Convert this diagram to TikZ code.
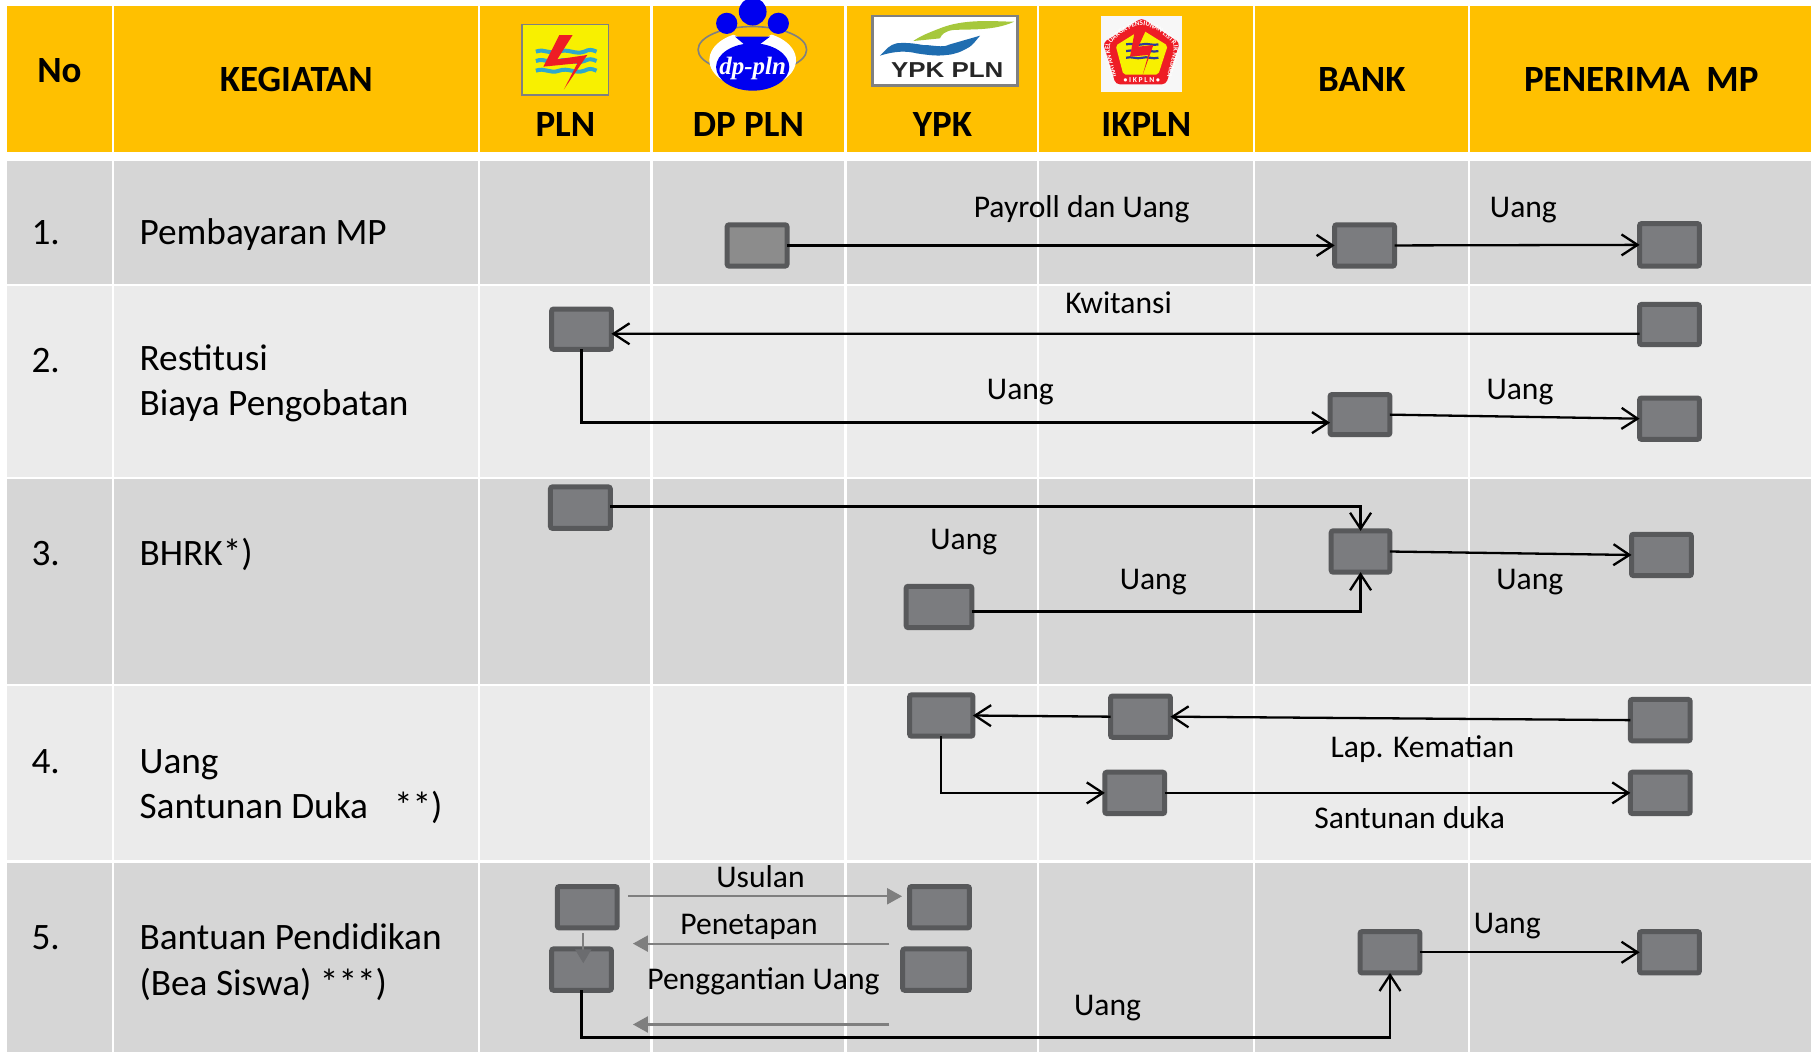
\documentclass[tikz,border=0pt]{standalone}
\usepackage{fontspec}
\setmainfont{Carlito}
\newfontfamily\logoserif{Liberation Serif}
\newfontfamily\logosans{Liberation Sans}
\usetikzlibrary{arrows.meta,decorations.text,calc}
\definecolor{hdr}{HTML}{FFC000}
\definecolor{rowa}{HTML}{D6D6D6}
\definecolor{rowb}{HTML}{EBEBEB}
\definecolor{boxfill}{HTML}{7B7C7F}
\definecolor{boxline}{HTML}{58595B}
\definecolor{arrgrey}{HTML}{7F7F7F}
\definecolor{wave}{HTML}{2FA8CC}
\definecolor{dpblue}{HTML}{0000F0}
\definecolor{navy}{HTML}{2B3A9A}
\definecolor{plnyellow}{HTML}{F8F000}
\definecolor{logored}{HTML}{EE1C25}
\definecolor{leaf}{HTML}{A6C83C}
\definecolor{hand}{HTML}{1F6DB0}
\newcommand{\gb}[6][boxfill]{\node[gbox,fill=#1,minimum width={(#4-#2-3.2)*0.5775pt},minimum height={(#5-#3-3.2)*0.5775pt}] (#6) at ({(#2+#4)/2},{(#3+#5)/2}) {};}
\tikzset{
 gbox/.style={draw=boxline,line width=2.5pt,rounded corners=1pt,inner sep=0pt,outer sep=0pt},
 flow/.style={black,line width=1.15pt,-{Straight Barb[length=8pt,width=10.5pt,line width=1.15pt]}},
 greyflow/.style={arrgrey,line width=1.1pt,-{Triangle[length=7.5pt,width=8pt]}},
 plainlabel/.style={font=\fontsize{15.8}{19}\selectfont,anchor=base,inner sep=0pt},
 rowtext/.style={font=\fontsize{18.65}{22}\selectfont,anchor=base west,inner sep=0pt},
 headtext/.style={font=\fontsize{18.5}{22}\selectfont\bfseries,anchor=base,inner sep=0pt},
}
\begin{document}
\begin{tikzpicture}[x=0.5775pt,y=-0.5775pt]
\useasboundingbox (0,0) rectangle (1568,911);
\fill[white] (0,0) rectangle (1568,911);
% table cells
\foreach \a/\b in {6/97,99/414,416/563,565/731,733/898,900/1085,1087/1271,1273/1568}{
  \fill[hdr] (\a,5.5) rectangle (\b,132);
  \fill[rowa] (\a,139) rectangle (\b,246);
  \fill[rowb] (\a,248) rectangle (\b,413);
  \fill[rowa] (\a,415) rectangle (\b,592);
  \fill[rowb] (\a,594) rectangle (\b,745);
  \fill[rowa] (\a,747) rectangle (\b,911);
}
% PLN logo
\fill[gray] (451.5,20.8) rectangle (527.6,82.8);
\fill[plnyellow] (453,22) rectangle (526,81.5);
\foreach \yy in {44.7,52.8,61.2}{
  \draw[wave,line width=2pt] (464,\yy) .. controls (472,\yy-3) and (476,\yy+3) .. (484,\yy) .. controls (492,\yy-3) and (498,\yy+3) .. (506,\yy) .. controls (510,\yy-2) and (512,\yy-2) .. (516.5,\yy);
}
\fill[logored] (484.3,30.3) -- (495.8,30.3) -- (482.5,51.4) -- (508.5,47.6) -- (488.3,77.3) -- (499.9,54.8) -- (470.4,57.7) -- cycle;
% DP PLN logo
\begin{scope}
\clip (580,0) rectangle (720,100);
\draw[gray,line width=0.8pt] (651.4,43) ellipse (47 and 20);
\fill[white] (651.7,52) ellipse (37.5 and 24.5);
\fill[hdr] (634,26) -- (669,26) -- (669,29) -- (652,40) -- (634,29) -- cycle;
\fill[dpblue] (651.7,10.1) circle (12);
\fill[dpblue] (629.2,20.2) circle (9.2);
\fill[dpblue] (673.9,20.2) circle (9.2);
\fill[dpblue] (636.4,31.7) -- (666.7,31.7) -- (657,39) -- (645,39) -- cycle;
\fill[dpblue] (651.7,58) ellipse (31.7 and 20.5);
\node[inner sep=0pt,text=white] (dplogo) at (651.7,59) {\fontsize{12.5}{14}\logoserif\bfseries\itshape dp-pln};
\end{scope}
% YPK logo
\draw[gray,fill=white,line width=1.3pt] (755.5,13.7) rectangle (881,73.8);
\fill[leaf] (878,18.8) .. controls (860,18.5) and (835,16) .. (813.9,24.5) .. controls (805,28) and (797,31) .. (790.8,35.5) -- (813.9,33.2) .. controls (815,30) and (818,27) .. (825,26) .. controls (840,25) and (860,27) .. (878,18.8) -- cycle;
\fill[hand] (761.9,48.2) .. controls (768,42) and (770,39) .. (776.3,37.5) .. controls (790,36) and (800,40) .. (802.3,39) .. controls (812,40) and (818,41) .. (822.5,38.4) -- (848.5,30.9) .. controls (845,35) and (843,38) .. (839.8,40.4) .. controls (832,45) and (827,47) .. (819.6,47.6) .. controls (810,49) and (800,47) .. (793.7,46.2) .. controls (785,44) and (775,44) .. cycle;
\node[inner sep=0pt,text=black!85,xscale=1.2] (ypklogo) at (820.2,60.6) {\fontsize{10.8}{12}\logosans\bfseries YPK PLN};
% IKPLN logo
\fill[black!3] (953.3,13.9) rectangle (1023.1,79.4);
\fill[logored,rounded corners=2pt] (988.5,15.5) -- (1021.5,37) -- (1009.5,73) -- (966,73) -- (955,37) -- cycle;
\fill[plnyellow,rounded corners=1pt] (988.5,25.5) -- (1011,39.5) -- (1002.9,64.5) -- (972.6,64.5) -- (966,39.5) -- cycle;
\foreach \yy in {38.4,44.2,50}{
  \draw[navy,line width=1.1pt] (975,\yy) .. controls (980,\yy-1.5) and (984,\yy+1.5) .. (989,\yy) .. controls (993,\yy-1.5) and (998,\yy+1.5) .. (1003,\yy);
}
\fill[logored] (982.7,26) -- (992.2,26) -- (985.6,40.4) -- (998.6,39) -- (989.3,65) -- (994.2,47.6) -- (978.4,49) -- cycle;
\path[postaction={decorate,decoration={text along path,text align=center,text={|\fontsize{3.5}{4}\selectfont\bfseries\color{white}|IKATAN KELUARGA PENSIUNAN LISTRIK NEGARA}}}] (966.5,66) .. controls (962,50) and (960,43) .. (961.5,38) .. controls (970,29) and (979,23) .. (988.5,22) .. controls (998,23) and (1007,29) .. (1015.5,38) .. controls (1017,43) and (1015,50) .. (1010.5,66);
\node[inner sep=0pt,text=white] (iklogo) at (988.5,68.9) {\fontsize{3.8}{4}\selectfont\bfseries• I K P L N •};
% header text
\node[headtext] (hno) at (51.5,71) {No};
\node[headtext] (hkeg) at (256.5,79.5) {KEGIATAN};
\node[headtext] (hpln) at (489.5,118.5) {PLN};
\node[headtext] (hdp) at (648,118.5) {DP PLN};
\node[headtext] (hypk) at (816,118.5) {YPK};
\node[headtext] (hik) at (992.5,118.5) {IKPLN};
\node[headtext] (hbank) at (1179,79.5) {BANK};
\node[headtext] (hpen) at (1421,79.5) {PENERIMA\ \ MP};
% row text
\node[rowtext] (n1) at (27,211.5) {1.};
\node[rowtext] (t1) at (120.5,211.5) {Pembayaran MP};
\node[rowtext] (n2) at (27,322.5) {2.};
\node[rowtext] (t2a) at (120.5,320.5) {Restitusi};
\node[rowtext] (t2b) at (120.5,359.5) {Biaya Pengobatan};
\node[rowtext] (n3) at (27,489.5) {3.};
\node[rowtext] (t3) at (120.5,489.5) {BHRK*)};
\node[rowtext] (n4) at (27,669.5) {4.};
\node[rowtext] (t4a) at (120.5,669.5) {Uang};
\node[rowtext] (t4b) at (120.5,708.5) {Santunan Duka\hspace{13pt}**)};
\node[rowtext] (n5) at (27,822.5) {5.};
\node[rowtext] (t5a) at (120.5,822.5) {Bantuan Pendidikan};
\node[rowtext] (t5b) at (120.5,861.5) {(Bea Siswa) ***)};
% boxes
\gb[gray!90!white]{628}{193}{683}{232}{a1}
\gb{1154}{193}{1209}{232}{b1}
\gb{1418}{192}{1473}{232}{c1}
\gb{476}{266}{531}{304}{a2}
\gb{1418}{262}{1473}{300}{k2}
\gb{1150}{340}{1205}{378}{b2}
\gb{1418}{343}{1473}{382}{c2}
\gb{475}{420}{530}{459}{a3}
\gb{783}{506}{843}{545}{y3}
\gb{1151}{458}{1205}{497}{b3}
\gb{1411}{461}{1466}{500}{c3}
\gb{786}{600}{844}{639}{y4}
\gb{960}{601}{1015}{640}{i4a}
\gb{1410}{604}{1465}{643}{c4a}
\gb{955}{667}{1010}{706}{i4b}
\gb{1410}{667}{1465}{706}{c4b}
\gb{481}{766}{536}{805}{a5a}
\gb{786}{766}{841}{805}{y5a}
\gb{476}{820}{531}{859}{a5b}
\gb{780}{820}{841}{859}{y5b}
\gb{1176}{805}{1231}{844}{b5}
\gb{1418}{805}{1473}{844}{c5}
% free ends
\coordinate (u1) at (544,776);
\coordinate (u2) at (781,776);
\coordinate (p1) at (770,817);
\coordinate (p2) at (548,817);
\coordinate (g1) at (770,887);
\coordinate (g2) at (548,887);
\coordinate (d1) at (505,808);
\coordinate (d2) at (505,834);
% connectors
\draw[flow] (a1.east) -- (b1.west);
\draw[flow] (b1.east) -- (c1.west);
\draw[flow] ([yshift=-4.6pt]k2.west) -- ([yshift=-2.3pt]a2.east);
\draw[flow] (a2.south) |- ([yshift=-4pt]b2.west);
\draw[flow] (b2.east) -- (c2.west);
\draw[flow] ([yshift=0.6pt]a3.east) -| (b3.north);
\draw[flow] ([yshift=-2.3pt]y3.east) -| (b3.south);
\draw[flow] (b3.east) -- (c3.west);
\draw[flow] (c4a.west) -- (i4a.east);
\draw[flow] (i4a.west) -- (y4.east);
\draw[flow] (y4.south) |- (i4b.west);
\draw[flow] (i4b.east) -- (c4b.west);
\draw[flow] (a5b.south) -- ++(0,41) -| (b5.south);
\draw[flow] (b5.east) -- (c5.west);
\draw[greyflow] (u1) -- (u2);
\draw[greyflow] (p1) -- (p2);
\draw[greyflow] (g1) -- (g2);
\draw[arrgrey,line width=1.1pt,-{Triangle[length=7pt,width=8pt,fill=boxline!45!boxfill,color=boxline!45!boxfill]}] (d1) -- (d2);
% labels
\node[plainlabel] (l1) at (936.5,188) {Payroll dan Uang};
\node[plainlabel] (l2) at (1319,188) {Uang};
\node[plainlabel] (l3) at (968.5,271) {Kwitansi};
\node[plainlabel] (l4) at (883.5,345.5) {Uang};
\node[plainlabel] (l5) at (1316,345.5) {Uang};
\node[plainlabel] (l6) at (834.5,475.5) {Uang};
\node[plainlabel] (l7) at (998.5,510) {Uang};
\node[plainlabel] (l8) at (1324.5,510) {Uang};
\node[plainlabel] (l9) at (1231.5,656) {Lap. Kematian};
\node[plainlabel] (l10) at (1220.5,717) {Santunan duka};
\node[plainlabel] (l11) at (658.5,768) {Usulan};
\node[plainlabel] (l12) at (648.5,809) {Penetapan};
\node[plainlabel] (l13) at (661,857) {Penggantian Uang};
\node[plainlabel] (l14) at (959,879) {Uang};
\node[plainlabel] (l15) at (1305,808) {Uang};
\end{tikzpicture}
\end{document}
